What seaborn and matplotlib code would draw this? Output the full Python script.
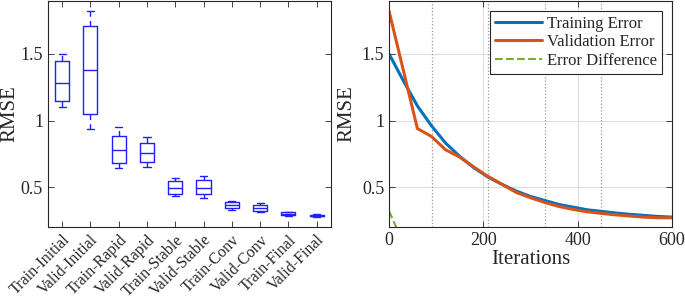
import numpy as np
import matplotlib
matplotlib.use("Agg")
import matplotlib.pyplot as plt
from matplotlib.ticker import FuncFormatter
import pandas as pd
import seaborn as sns

####figure settings####
sns.set_style("white")
plt.rcParams["font.family"] = ["Liberation Serif", "DejaVu Serif"]
plt.rcParams["mathtext.fontset"] = "stix"
plt.rcParams["xtick.labelsize"] = 13
plt.rcParams["ytick.labelsize"] = 13
plt.rcParams["axes.labelsize"] = 15
plt.rcParams["axes.linewidth"] = 0.8
plt.rcParams["axes.edgecolor"] = "#262626"
plt.rcParams["xtick.direction"] = "in"
plt.rcParams["ytick.direction"] = "in"

# ---- box plot data: min, q1, median, q3, max per phase ----
phases = ["Train-Initial", "Valid-Initial", "Train-Rapid", "Valid-Rapid",
          "Train-Stable", "Valid-Stable", "Train-Conv", "Valid-Conv",
          "Train-Final", "Valid-Final"]
train_initial = [1.10, 1.15, 1.28, 1.45, 1.50]
valid_initial = [0.94, 1.05, 1.38, 1.71, 1.82]
train_rapid = [0.64, 0.68, 0.775, 0.885, 0.95]
valid_rapid = [0.65, 0.69, 0.755, 0.83, 0.88]
train_stable = [0.43, 0.45, 0.49, 0.545, 0.57]
valid_stable = [0.42, 0.445, 0.49, 0.55, 0.58]
train_conv = [0.33, 0.34, 0.365, 0.385, 0.395]
valid_conv = [0.31, 0.32, 0.34, 0.365, 0.38]
train_final = [0.285, 0.29, 0.30, 0.31, 0.315]
valid_final = [0.275, 0.28, 0.285, 0.29, 0.295]

# ---- learning curves ----
iterations = [0, 30, 60, 90, 120, 150, 180, 210, 240, 270, 300,
              330, 360, 390, 420, 450, 480, 510, 540, 570, 600]
train_err = [1.50, 1.30, 1.11, 0.96, 0.83, 0.73, 0.645, 0.575, 0.52, 0.47, 0.43,
             0.40, 0.37, 0.35, 0.33, 0.318, 0.306, 0.296, 0.288, 0.28, 0.275]
valid_err = [1.82, 1.38, 0.94, 0.88, 0.78, 0.725, 0.65, 0.58, 0.52, 0.46, 0.42,
             0.385, 0.355, 0.333, 0.315, 0.303, 0.292, 0.283, 0.275, 0.27, 0.27]
phase_bounds = [90, 210, 330, 450]

boxes = [train_initial, valid_initial, train_rapid, valid_rapid, train_stable,
         valid_stable, train_conv, valid_conv, train_final, valid_final]
box_df = pd.DataFrame({
    "phase": np.repeat(phases, [len(b) for b in boxes]),
    "RMSE": np.concatenate(boxes),
})
curve_df = pd.DataFrame({"it": iterations, "train": train_err, "valid": valid_err})
curve_df["diff"] = curve_df["valid"] - curve_df["train"]

fig = plt.figure(figsize=(6.85, 3.0), dpi=100)
ax1 = fig.add_axes([0.070, 0.243, 0.413, 0.755])
ax2 = fig.add_axes([0.568, 0.243, 0.413, 0.755])

fmt = FuncFormatter(lambda v, p: "%g" % v)

# left: box plot
blue = "#2020ff"
sns.boxplot(data=box_df, x="phase", y="RMSE", order=phases, fill=False,
            color=blue, linecolor=blue, width=0.5, whis=(0, 100), showfliers=False,
            linewidth=1.0, whiskerprops={"linestyle": (0, (4, 3))}, ax=ax1)
ax1.set_ylim(0.2, 1.9)
ax1.set_xlim(-0.5, 9.5)
ax1.set_yticks([0.5, 1, 1.5])
ax1.yaxis.set_major_formatter(fmt)
ax1.set_xlabel("")
ax1.set_ylabel("RMSE", labelpad=1)
ax1.set_xticks(range(len(phases)))
ax1.set_xticklabels(phases, rotation=45, ha="right", rotation_mode="anchor")
ax1.tick_params(top=True, right=True, bottom=True, left=True, length=4, width=0.6,
                colors="#262626", labelcolor="#262626")
for t in ax1.get_xticklabels():
    t.set_fontsize(11.5)

# right: learning curves
ax2.grid(True, color="#dedede", linewidth=0.8)
for b in phase_bounds:
    ax2.axvline(b, color="#9a9a9a", linestyle=":", linewidth=0.9, zorder=1)
sns.lineplot(data=curve_df, x="it", y="train", color="#0072BD", linewidth=2.2,
             label="Training Error", ax=ax2)
sns.lineplot(data=curve_df, x="it", y="valid", color="#D95319", linewidth=2.2,
             label="Validation Error", ax=ax2)
sns.lineplot(data=curve_df, x="it", y="diff", color="#77AC30", linewidth=1.5,
             linestyle="--", label="Error Difference", ax=ax2)
ax2.set_xlim(0, 600)
ax2.set_ylim(0.2, 1.9)
ax2.set_xticks([0, 200, 400, 600])
ax2.set_yticks([0.5, 1, 1.5])
ax2.yaxis.set_major_formatter(fmt)
ax2.set_xlabel("Iterations", labelpad=1)
ax2.set_ylabel("RMSE", labelpad=4)
ax2.tick_params(top=True, right=True, bottom=True, left=True, length=4, width=0.6,
                colors="#262626", labelcolor="#262626")
leg = ax2.legend(loc="upper right", fontsize=12, frameon=True, fancybox=False,
                 framealpha=1, edgecolor="#262626", handlelength=2.8,
                 borderpad=0.3, labelspacing=0.15, handletextpad=0.3,
                 borderaxespad=0.6)
leg.get_frame().set_linewidth(0.8)
for s in ax1.spines.values():
    s.set_visible(True)
for s in ax2.spines.values():
    s.set_visible(True)

plt.savefig("out.png", dpi=100)
